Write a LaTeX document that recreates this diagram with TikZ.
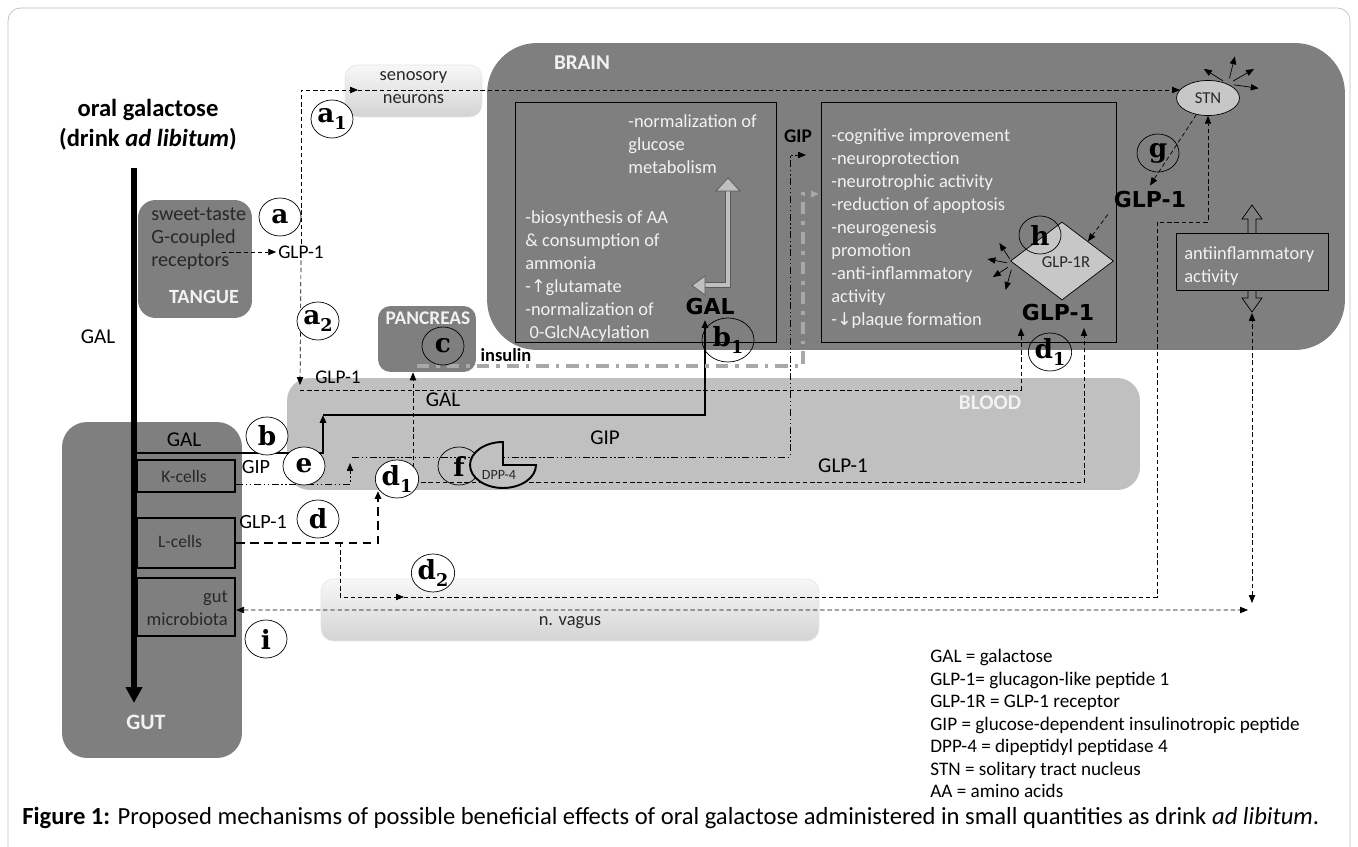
\documentclass[tikz,border=0pt]{standalone}
\usepackage{fontspec}
\setmainfont{Carlito}
\newfontfamily\lblfont{DejaVu Serif}
\newfontfamily\heavyfont{DejaVu Sans}
\newfontfamily\symfont{DejaVu Sans}
\usetikzlibrary{arrows.meta,shapes.geometric,positioning}

\definecolor{organgray}{RGB}{127,127,127}
\definecolor{bloodgray}{RGB}{192,192,192}
\definecolor{softwhite}{RGB}{242,242,242}
\definecolor{pathgray}{RGB}{168,168,168}
\definecolor{darktext}{RGB}{40,40,40}

\tikzset{
  organ/.style={fill=organgray, draw=none, inner sep=0pt},
  innerbox/.style={draw, thin, inner sep=0pt},
  cellbox/.style={draw, line width=1.3pt, fill=organgray, inner sep=0pt},
  fadebox/.style={top color=white!97!black, bottom color=black!17, draw=black!10,
    rounded corners=0.25cm, inner sep=0pt},
  lettercirc/.style={ellipse, draw, thin, inner sep=0pt, minimum width=0.84cm,
    minimum height=0.76cm, font=\lblfont\bfseries\fontsize{15}{15}\selectfont},
  bodytxt/.style={font=\fontsize{10.5}{13.1}\selectfont, align=left, inner sep=0pt},
  whitetxt/.style={text=softwhite},
  heavylbl/.style={font=\heavyfont\bfseries\fontsize{12.5}{12.5}\selectfont},
  dashline/.style={thin, dash pattern=on 2.5pt off 1.6pt},
  gipline/.style={thin, dash pattern=on 4pt off 1.5pt on 0.8pt off 1.5pt on 0.8pt off 1.5pt},
  thickdash/.style={line width=1.7pt, dash pattern=on 5pt off 3pt},
  insline/.style={line width=2.3pt, pathgray, dash pattern=on 7pt off 4pt on 2pt off 4pt},
  galline/.style={line width=1.2pt},
  ray/.style={thin},
}
\newcommand{\sub}[1]{\raisebox{-0.45ex}{\fontsize{10}{10}\selectfont #1}}

\begin{document}
\begin{tikzpicture}[x=0.02cm,y=-0.02cm,>={Triangle[length=4.5pt,width=3.6pt]}]
\useasboundingbox (0,0) rectangle (1358,847);
% frame
\draw[black!25, rounded corners=0.25cm] (8,880) -- (8,8) -- (1350,8) -- (1350,880);

% organs
\node[organ, rounded corners=1cm, minimum width=17.16cm, minimum height=6.14cm] (brain) at (916,196.5) {};
\node[organ, fill=bloodgray, rounded corners=0.45cm, minimum width=17.06cm, minimum height=2.24cm] (blood) at (713.5,434) {};
\node[organ, rounded corners=0.5cm, minimum width=3.6cm, minimum height=6.72cm] (gut) at (152,590) {};
\node[organ, rounded corners=0.35cm, minimum width=2.28cm, minimum height=2.36cm] (tangue) at (195,259) {};
\node[organ, rounded corners=0.25cm, minimum width=1.96cm, minimum height=1.32cm] (pancreas) at (427,339) {};
\node[fadebox, minimum width=2.74cm, minimum height=1.04cm] (senosory) at (413.5,91) {};
\node[fadebox, minimum width=9.96cm, minimum height=1.24cm] (vagus) at (570,610) {};

% boxes inside
\node[innerbox, minimum width=5.22cm, minimum height=4.8cm] (leftbox) at (645.5,222) {};
\node[innerbox, minimum width=5.9cm, minimum height=4.8cm] (rightbox) at (968.5,222) {};
\node[cellbox, minimum width=1.96cm, minimum height=0.64cm] (kcells) at (186,476) {};
\node[cellbox, minimum width=1.96cm, minimum height=1.0cm] (lcells) at (186,543) {};
\node[cellbox, minimum width=1.96cm, minimum height=1.16cm] (microbiota) at (186,607) {};

% anti-inflammatory double arrow and box
\filldraw[fill=organgray, thin] (1252,205) -- (1262,219) -- (1256,219) -- (1256,298) -- (1262,298)
  -- (1252,312) -- (1242,298) -- (1248,298) -- (1248,219) -- (1242,219) -- cycle;
\node[innerbox, fill=organgray, minimum width=3.04cm, minimum height=1.14cm] (antibox) at (1252,261.5) {};

% receptor and nucleus
\node[draw, thin, fill=black!22, ellipse, minimum width=1.26cm, minimum height=0.7cm, inner sep=0pt,
  font=\fontsize{9.5}{9.5}\selectfont, text=darktext] (STN) at (1208,98) {STN};
\node[draw, thin, fill=black!22, diamond, minimum width=2.06cm, minimum height=1.56cm, inner sep=0pt] (gr) at (1062,261) {};

% coordinates
\coordinate (galtop) at (134,168);
\coordinate (galbot) at (134,703);
\coordinate (tangueout) at (222,252);
\coordinate (snin) at (358,90);
\coordinate (stnin) at (1180,90);
\coordinate (glpdrop) at (300,385);
\coordinate (glpline) at (300,390);
\coordinate (glpRleft) at (1021,328);
\coordinate (glpRright) at (1084,328);
\coordinate (galgut) at (137,453);
\coordinate (galjoin) at (323,415);
\coordinate (galtip) at (705,320);
\coordinate (gipup) at (350,463);
\coordinate (gipstart) at (352,457);
\coordinate (gipturn) at (790,155);
\coordinate (gipend) at (806,155);
\coordinate (lup) at (378,491);
\coordinate (lline) at (378,482);
\coordinate (pbranch) at (413,482);
\coordinate (d2start) at (340,543);
\coordinate (d2tip) at (404,597);
\coordinate (vagturn) at (1157,222);
\coordinate (vagusend) at (1248,610);
\coordinate (antibot) at (1252,603);
\coordinate (antitip) at (1252,313);
\coordinate (insstart) at (417,366);
\coordinate (insturn) at (803,194);
\coordinate (insend) at (819,194);
\coordinate (dpp) at (503,465);
\coordinate (stnhub) at (1228,84);
\coordinate (grhub) at (1013,264);

% main galactose stream
\draw[line width=3.6pt, -{Triangle[length=9pt,width=9pt]}] (galtop) -- (galbot);

% text labels needed as end points
\node[font=\fontsize{11}{11}\selectfont, inner sep=1pt] (aglp) at (301,252) {GLP-1};
\node[heavylbl] (glpg) at (1150,200) {GLP-1};
\node[heavylbl] (glpR) at (1058,313) {GLP-1};
\node[heavylbl] (galB) at (710,307) {GAL};

% a: tongue
\draw[dashline,->] (tangueout) -- (aglp.west);
\draw[dashline,->] (aglp.north) |- (snin);
\draw[dashline,->] (snin) -- (stnin);
\draw[dashline,->] (aglp.south) -- (glpdrop);
\draw[dashline,->] (glpline) -| (glpRleft);

% b: galactose to brain
\draw[galline,->] (galgut) -| (galjoin);
\draw[galline,->] (galjoin) -| (galtip);

% e: GIP
\draw[gipline,->] ([yshift=-0.16cm]kcells.east) -| (gipup);
\draw[gipline,->] (gipstart) -| (gipturn) -- (gipend);

% d: GLP-1 from L-cells
\draw[thickdash,->] (lcells.east) -| (lup);
\draw[dashline,->] (lline) -| (glpRright);
\draw[dashline,->] (pbranch) -- (pbranch |- pancreas.south);
\draw[dashline,->] (d2start) |- (d2tip);
\draw[dashline,->] (d2tip) -| (vagturn) -| (STN.south);

% i: microbiota and vagus
\draw[dashline,<->] ([yshift=-0.06cm]microbiota.east) -- (vagusend);
\draw[dashline,<->] (antibot) -- (antitip);

% c: insulin
\draw[insline,->] (insstart) -| (insturn) -- (insend);

% g, h
\draw[dashline,->] (STN.235) -- (glpg.north);
\draw[dashline,->] (glpg.south west) -- (gr.north east);
\foreach \ang/\len in {148/0.45,76/0.45,30/0.48,-8/0.5}
  \draw[ray,->] ([shift={(\ang:0.12cm)}]stnhub) -- ++(\ang:\len cm);
\foreach \ang/\len in {123/0.38,169/0.4,213/0.36,254/0.42}
  \draw[ray,->] ([shift={(\ang:0.12cm)}]grhub) -- ++(\ang:\len cm);

% hollow GAL arrow in brain
\draw[draw=black!65, double=black!25, double distance=2pt, line width=0.5pt] (705,285) -- (728,285) -- (728,191);
\filldraw[fill=black!25, draw=black!65, thin] (716,191) -- (740,191) -- (728,178) -- cycle;
\filldraw[fill=black!25, draw=black!65, thin] (705,276) -- (705,295) -- (692,285.5) -- cycle;

% DPP-4
\node[lettercirc] (f) at (459,466) {f};
\filldraw[fill=bloodgray, line width=1.1pt] (dpp) -- ++(0,0.46cm)
  arc[start angle=90, end angle=360, x radius=0.66cm, y radius=0.46cm] -- cycle;
\node[font=\fontsize{8}{8}\selectfont, text=darktext] (dpplbl) at (499,475) {DPP-4};

% letters
\node[lettercirc, fill=white] (a) at (280,217) {a};
\node[lettercirc, fill=white] (a1) at (332,119) {a\sub{1}};
\node[lettercirc, fill=white] (a2) at (318,321) {a\sub{2}};
\node[lettercirc, fill=white] (b) at (267,436) {b};
\node[lettercirc, minimum width=1.04cm, minimum height=0.88cm] (b1) at (728,340) {b\sub{1}};
\node[lettercirc] (c) at (443,346) {c};
\node[lettercirc, fill=white] (d) at (318,519) {d};
\node[lettercirc, fill=white] (d1) at (397,479) {d\sub{1}};
\node[lettercirc] (d1b) at (1050,352) {d\sub{1}};
\node[lettercirc, fill=white] (d2) at (433,573) {d\sub{2}};
\node[lettercirc, fill=white] (e) at (304,466) {e};
\node[lettercirc] (g) at (1158,153) {g};
\node[lettercirc] (h) at (1040,235) {h};
\node[lettercirc, fill=white] (i) at (266,639) {i};

% texts
\node[align=center, font=\bfseries\fontsize{14}{17}\selectfont] (title) at (148,125) {oral galactose\\(drink \textit{ad libitum})};
\node[bodytxt, font=\fontsize{11.5}{13.3}\selectfont, anchor=north west, text=darktext] (tanguetxt) at (151,207) {sweet-taste\\G-coupled\\receptors};
\node[whitetxt, font=\bfseries\fontsize{11.5}{11.5}\selectfont] (tanguelbl) at (204,297) {TANGUE};
\node[font=\fontsize{12}{12}\selectfont] (galleft) at (98,337) {GAL};
\node[font=\fontsize{10.5}{13}\selectfont, align=center, text=darktext] (sntxt) at (413.5,88) {senosory\\neurons};
\node[whitetxt, font=\bfseries\fontsize{11}{11}\selectfont] (panclbl) at (428,318) {PANCREAS};
\node[font=\bfseries\fontsize{10.5}{10.5}\selectfont] (inslbl) at (506,355) {insulin};
\node[whitetxt, font=\bfseries\fontsize{12}{12}\selectfont] (brainlbl) at (582,63) {BRAIN};
\node[font=\bfseries\fontsize{11}{11}\selectfont] (giplbl) at (798,136) {GIP};
\node[bodytxt, whitetxt, anchor=north west] (glucosetxt) at (628,114) {-normalization of\\glucose\\metabolism};
\node[bodytxt, whitetxt, anchor=north west] (aatxt) at (525,210) {-biosynthesis of AA\\\& consumption of\\ammonia\\-{\symfont\fontsize{10}{10}\selectfont ↑}glutamate\\-normalization of\\\ 0-GlcNAcylation};
\node[bodytxt, whitetxt, anchor=north west] (effects) at (831,128) {-cognitive improvement\\-neuroprotection\\-neurotrophic activity\\-reduction of apoptosis\\-neurogenesis\\promotion\\-anti-inflammatory\\activity\\-{\symfont\fontsize{10}{10}\selectfont ↓}plaque formation};
\node[font=\fontsize{9.5}{9.5}\selectfont, text=darktext] (grlbl) at (1066,262) {GLP-1R};
\node[bodytxt, whitetxt, anchor=north west] (antitxt) at (1184,246) {antiinflammatory\\activity};
\node[font=\fontsize{11}{11}\selectfont] (glpblood1) at (338,377) {GLP-1};
\node[font=\fontsize{12}{12}\selectfont] (galblood) at (443,400) {GAL};
\node[font=\fontsize{12}{12}\selectfont] (gipblood) at (605,438) {GIP};
\node[font=\fontsize{12}{12}\selectfont] (glpblood2) at (843,466) {GLP-1};
\node[whitetxt, font=\bfseries\fontsize{12}{12}\selectfont] (bloodlbl) at (990,403) {BLOOD};
\node[font=\fontsize{12}{12}\selectfont] (galgutlbl) at (184,440) {GAL};
\node[font=\fontsize{10}{10}\selectfont, text=darktext] (klbl) at (184,476) {K-cells};
\node[font=\fontsize{10}{10}\selectfont, text=darktext] (llbl) at (180,541) {L-cells};
\node[font=\fontsize{10.5}{13}\selectfont, align=right, text=darktext, anchor=north east] (mlbl) at (234,585) {gut\\microbiota};
\node[font=\fontsize{11.5}{11.5}\selectfont] (giplbl2) at (256,467) {GIP};
\node[font=\fontsize{11.5}{11.5}\selectfont] (glplbl2) at (263,522) {GLP-1};
\node[whitetxt, font=\bfseries\fontsize{12.5}{12.5}\selectfont] (gutlbl) at (146,722) {GUT};
\node[font=\fontsize{10.5}{10.5}\selectfont, text=darktext] (vaguslbl) at (570,623) {n. vagus};

% legend
\node[bodytxt, font=\fontsize{10.9}{12.8}\selectfont, anchor=north west] (legend) at (930,649) {GAL = galactose\\GLP-1= glucagon-like peptide 1\\GLP-1R = GLP-1 receptor\\GIP = glucose-dependent insulinotropic peptide\\DPP-4 = dipeptidyl peptidase 4\\STN = solitary tract nucleus\\AA = amino acids};

% caption
\node[anchor=west, inner sep=0pt, font=\fontsize{14}{16}\selectfont] (caption) at (22,818) {\textbf{Figure 1:} Proposed mechanisms of possible beneficial effects of oral galactose administered in small quantities as drink \textit{ad libitum}.};
\end{tikzpicture}
\end{document}
